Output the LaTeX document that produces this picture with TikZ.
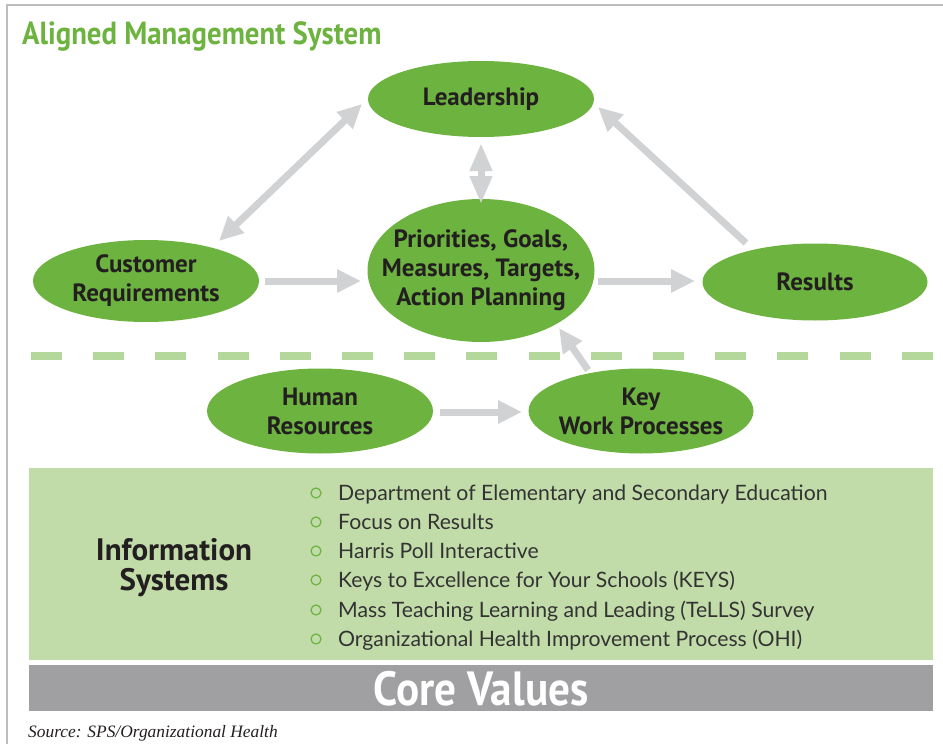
\documentclass[tikz,border=0pt]{standalone}
\usepackage{fontspec}
\setmainfont{PT Sans}
\newfontfamily\condfont[FakeStretch=0.9]{PT Sans}
\newfontfamily\listfont{Lato}
\newfontfamily\srcfont{Liberation Serif}
\usetikzlibrary{arrows.meta,shapes.geometric}
\definecolor{ellgreen}{HTML}{6DB33F}
\definecolor{dashgreen}{HTML}{B4D89C}
\definecolor{infogreen}{HTML}{C2DCA9}
\definecolor{coregray}{HTML}{A0A0A3}
\definecolor{arrowgray}{HTML}{D1D2D4}
\definecolor{textdark}{HTML}{231F20}
\definecolor{listtext}{HTML}{333333}
\definecolor{framegray}{HTML}{BDBDBD}
\tikzset{
  ell/.style={ellipse, fill=ellgreen, inner sep=-30pt, align=center, text=textdark,
    font=\bfseries\fontsize{25}{29}\selectfont},
  garrow/.style={draw=arrowgray, line width=7pt, -{Triangle[length=24pt,width=22pt]}},
  gdarrow/.style={draw=arrowgray, line width=7pt, {Triangle[length=24pt,width=22pt]}-{Triangle[length=24pt,width=22pt]}},
  bulletmark/.style={circle, draw=ellgreen, line width=1.2pt, minimum size=10pt, inner sep=0pt},
  listitem/.style={anchor=base west, inner sep=0pt, text=listtext, font=\listfont\fontsize{21.2}{24}\selectfont}
}
\begin{document}
\begin{tikzpicture}[x=1pt,y=-1pt]
\useasboundingbox (0,0) rectangle (943,744);
% frame
\draw[framegray, line width=1.5pt] (7,744) -- (7,5) -- (943,5);
% title
\node[anchor=base west, inner sep=0pt, text=ellgreen, font=\condfont\bfseries\fontsize{32}{34}\selectfont] (title) at (22,44) {Aligned Management System};
% ellipses
\node[ell, minimum width=226pt, minimum height=76pt] (lead) at (481,99) {Leadership};
\node[ell, minimum width=226pt, minimum height=82pt] (cust) at (146,281) {Customer\\Requirements};
\node[ell, minimum width=227pt, minimum height=143pt] (prio) at (481,270.5) {Priorities, Goals,\\Measures, Targets,\\Action Planning};
\node[ell, minimum width=225pt, minimum height=77pt] (res) at (815,282) {Results};
\node[ell, minimum width=226pt, minimum height=85pt] (hr) at (320,411) {Human\\Resources};
\node[ell, minimum width=225pt, minimum height=85pt] (kwp) at (641,411) {Key\\Work Processes};
% arrow end points
\coordinate (cl1) at (219,241);
\coordinate (cl2) at (362,104);
\coordinate (lp1) at (481,143);
\coordinate (lp2) at (481,204);
\coordinate (rl1) at (746,243);
\coordinate (rl2) at (598,107);
\coordinate (cp1) at (265,281);
\coordinate (cp2) at (361,281);
\coordinate (pr1) at (598,281);
\coordinate (pr2) at (695,281);
\coordinate (hk1) at (440,412);
\coordinate (hk2) at (522,412);
\coordinate (kp1) at (588,370);
\coordinate (kp2) at (559,328);
% dashed divider
\coordinate (d1) at (31,356);
\coordinate (d2) at (933,356);
\draw[dashgreen, line width=8pt, dash pattern=on 31pt off 31.2pt] (d1) -- (d2);
% arrows
\draw[gdarrow] (cl1) -- (cl2);
\draw[draw=arrowgray, line width=7pt, {Triangle[length=28pt,width=21pt]}-{Triangle[length=28pt,width=21pt]}] (lp1) -- (lp2);
\draw[garrow] (rl1) -- (rl2);
\draw[garrow] (cp1) -- (cp2);
\draw[garrow] (pr1) -- (pr2);
\draw[garrow] (hk1) -- (hk2);
\draw[garrow] (kp1) -- (kp2);
% information systems
\fill[infogreen] (29,468) rectangle (933,660);
\node[align=center, text=textdark, font=\bfseries\fontsize{31}{30}\selectfont] (info) at (174,568) {Information\\Systems};
\foreach \i/\yy/\txt in {1/493/Department of Elementary and Secondary Education,
  2/522/Focus on Results,
  3/551/Harris Poll Interactive,
  4/580/Keys to Excellence for Your Schools (KEYS),
  5/610/Mass Teaching Learning and Leading (TeLLS) Survey,
  6/639/Organizational Health Improvement Process (OHI)}{
  \node[bulletmark] (bm\i) at (316,\yy) {};
  \node[listitem] (li\i) at (338,\yy+7.5) {\txt};
}
% core values
\fill[coregray] (29,665) rectangle (933,711);
\node[text=white, font=\condfont\bfseries\fontsize{48}{50}\selectfont] (core) at (481,689) {Core Values};
% source
\node[anchor=base west, inner sep=0pt, text=textdark, font=\srcfont\itshape\fontsize{17.4}{19}\selectfont] (src) at (28,737) {Source: SPS/Organizational Health};
\end{tikzpicture}
\end{document}
